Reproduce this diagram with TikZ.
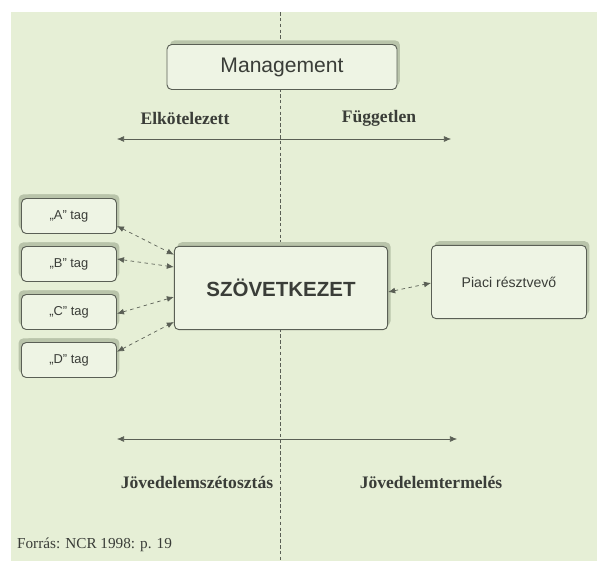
\documentclass[tikz,border=0pt]{standalone}
\usepackage{fontspec}
\setmainfont{Liberation Serif}
\setsansfont{Liberation Sans}
\usetikzlibrary{arrows.meta,shadows}

\definecolor{bggreen}{HTML}{E6EFD6}
\definecolor{boxfill}{HTML}{EEF4E4}
\definecolor{boxline}{HTML}{5A5F55}
\definecolor{shadowgreen}{HTML}{B9C4AA}
\definecolor{txtgray}{HTML}{3A3D38}

\begin{document}
\begin{tikzpicture}[x=0.03cm, y=-0.03cm,
    box/.style={draw=boxline, fill=boxfill, rounded corners=4pt, line width=0.8pt,
        font=\sffamily, text=txtgray, align=center,
        drop shadow={shadow xshift=2.5pt, shadow yshift=3.5pt, fill=shadowgreen, opacity=1}},
    tagbox/.style={box, minimum width=2.85cm, minimum height=1.05cm, font=\sffamily\fontsize{11}{12}\selectfont,
        drop shadow={shadow xshift=-2.5pt, shadow yshift=3.5pt, fill=shadowgreen, opacity=1}},
    link/.style={{Latex[length=6pt,width=5pt]}-{Latex[length=6pt,width=5pt]}, dashed, boxline, line width=0.6pt},
    axis/.style={{Latex[length=6pt,width=5pt]}-{Latex[length=6pt,width=5pt]}, boxline, line width=0.5pt},
    axislabel/.style={font=\bfseries\fontsize{15}{17}\selectfont, text=txtgray}]
    \useasboundingbox (0,0) rectangle (597,561);
    \fill[white] (0,0) rectangle (597,561);
    \fill[bggreen] (11,12) rectangle (597,561);

    % dividing line
    \draw[densely dashed, boxline, line width=0.5pt] (280,12) -- (280,561);

    \node[box, minimum width=6.9cm, minimum height=1.35cm, font=\sffamily\fontsize{18}{20}\selectfont] (mgmt) at (282,67) {Management};

    % upper axis
    \coordinate (topL) at (117,139);
    \coordinate (topR) at (451,139);
    \draw[axis] (topL) -- (topR);
    \node[axislabel] (elk) at (185,118) {Elkötelezett};
    \node[axislabel] (fugg) at (379,118) {Független};

    % members
    \node[tagbox] (tagA) at (69,216) {„A” tag};
    \node[tagbox] (tagB) at (69,264) {„B” tag};
    \node[tagbox] (tagC) at (69,312) {„C” tag};
    \node[tagbox] (tagD) at (69,360) {„D” tag};

    \node[box, minimum width=6.4cm, minimum height=2.5cm, font=\sffamily\bfseries\fontsize{17.5}{19}\selectfont] (szov) at (281,288) {SZÖVETKEZET};
    \node[box, minimum width=4.65cm, minimum height=2.2cm, font=\sffamily\fontsize{12}{14}\selectfont] (piac) at (509,282) {Piaci résztvevő};

    \draw[link] ([yshift=-0.3cm]tagA.east) -- ([yshift=1.0cm]szov.west);
    \draw[link] ([yshift=0.15cm]tagB.east) -- ([yshift=0.63cm]szov.west);
    \draw[link] ([yshift=-0.05cm]tagC.east) -- ([yshift=-0.27cm]szov.west);
    \draw[link] ([yshift=0.25cm]tagD.east) -- ([yshift=-1.02cm]szov.west);
    \draw[link] ([yshift=-0.12cm]szov.east) -- ([yshift=-0.03cm]piac.west);

    % lower axis
    \coordinate (botL) at (117,439);
    \coordinate (botR) at (457,439);
    \draw[axis] (botL) -- (botR);
    \node[axislabel] (szet) at (197,482) {Jövedelemszétosztás};
    \node[axislabel] (term) at (431,482) {Jövedelemtermelés};

    \node[anchor=west, font=\fontsize{13}{15}\selectfont, text=txtgray] (forras) at (13,545) {Forrás: NCR 1998: p. 19};
\end{tikzpicture}
\end{document}
